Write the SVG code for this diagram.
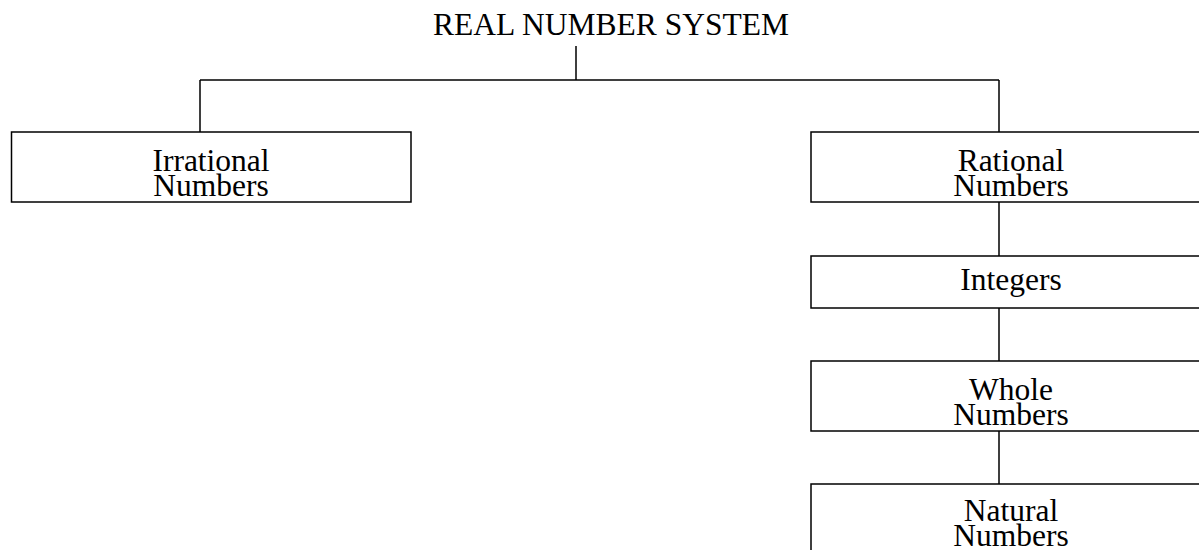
<svg xmlns="http://www.w3.org/2000/svg" width="1199" height="550" viewBox="0 0 1199 550">
<style>
.box{fill:#fff;stroke:#000;stroke-width:1.5}
.ln{fill:none;stroke:#000;stroke-width:1.5}
text{font-family:"Liberation Serif","Times New Roman",serif;font-size:31.5px;fill:#000;text-anchor:middle}
</style>
<rect width="1199" height="550" fill="#fff"/>
<g id="connectors">
<path class="ln" d="M576,46V80M200,80H999M200,80V132M999,80V132M999,202V256M999,308V361M999,431V484"/>
</g>
<g id="title"><text x="611" y="35">REAL NUMBER SYSTEM</text></g>
<g id="irrational"><rect class="box" x="11.5" y="132" width="399.5" height="70"/><text x="211" y="171">Irrational</text><text x="211" y="196">Numbers</text></g>
<g id="rational"><rect class="box" x="811" y="132" width="400" height="70"/><text x="1011" y="171">Rational</text><text x="1011" y="196">Numbers</text></g>
<g id="integers"><rect class="box" x="811" y="256" width="400" height="52"/><text x="1011" y="290">Integers</text></g>
<g id="whole"><rect class="box" x="811" y="361" width="400" height="70"/><text x="1011" y="400">Whole</text><text x="1011" y="425">Numbers</text></g>
<g id="natural"><rect class="box" x="811" y="484" width="400" height="80"/><text x="1011" y="521">Natural</text><text x="1011" y="546">Numbers</text></g>
</svg>
